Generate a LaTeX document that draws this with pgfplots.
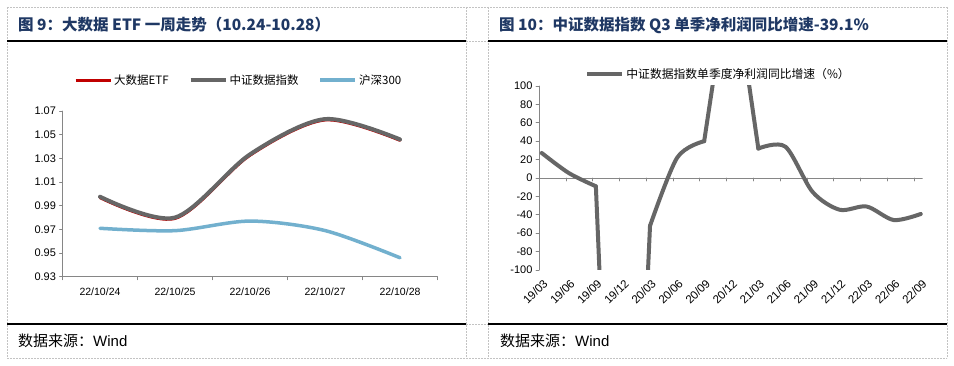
\documentclass[border=0pt]{standalone}
\usepackage{pgfplots}
\pgfplotsset{compat=1.18}
\usepackage{fontspec}
\setmainfont{Liberation Sans}
\newfontfamily\cjk{Noto Sans CJK SC}
\definecolor{titleblue}{RGB}{31,56,100}
\definecolor{etfred}{RGB}{192,0,0}
\definecolor{idxgray}{RGB}{102,102,102}
\definecolor{hsblue}{RGB}{114,176,206}
\definecolor{axgray}{RGB}{134,134,134}
\definecolor{dashgray}{RGB}{195,195,195}
\begin{document}
\begin{tikzpicture}
\path[use as bounding box] (0pt,0pt) rectangle (954pt,365pt);
\fill[white] (0pt,0pt) rectangle (954pt,365pt);
\begin{scope}[dashgray, line width=0.8pt, dash pattern=on 2pt off 1pt]
\foreach \x in {7,466,488,947} \draw (\x pt,358pt) -- (\x pt,7pt);
\foreach \y in {358,324,41,7} \draw (7pt,\y pt) -- (947pt,\y pt);
\end{scope}
\draw[black, line width=1.3pt] (7pt,324pt) -- (466pt,324pt) (488pt,324pt) -- (947pt,324pt) (7pt,41pt) -- (466pt,41pt) (488pt,41pt) -- (947pt,41pt);
\node[anchor=west, text=titleblue, inner sep=0pt, font=\cjk\bfseries\fontsize{15.5}{17}\selectfont] at (18pt,340pt) {图 9：大数据 ETF 一周走势（10.24-10.28）};
\node[anchor=west, text=titleblue, inner sep=0pt, font=\cjk\bfseries\fontsize{15.5}{17}\selectfont] at (499pt,340pt) {图 10：中证数据指数 Q3 单季净利润同比增速-39.1\%};
\node[anchor=west, inner sep=0pt, font=\fontsize{15}{17}\selectfont] at (18pt,24pt) {{\cjk 数据来源：}Wind};
\node[anchor=west, inner sep=0pt, font=\fontsize{15}{17}\selectfont] at (500pt,24pt) {{\cjk 数据来源：}Wind};

\begin{axis}[
  at={(62.5pt,88.3pt)}, anchor=south west, scale only axis,
  width=375pt, height=165.7pt,
  xmin=-0.5, xmax=4.5, ymin=0.93, ymax=1.07,
  axis lines*=left,
  axis line style={-, axgray, line width=0.8pt},
  ytick={0.93,0.95,0.97,0.99,1.01,1.03,1.05,1.07},
  yticklabel style={/pgf/number format/.cd, fixed, fixed zerofill, precision=2},
  xtick={0,1,2,3,4},
  xticklabels={22/10/24,22/10/25,22/10/26,22/10/27,22/10/28},
  minor xtick={-0.5,0.5,1.5,2.5,3.5,4.5},
  tick align=outside,
  tick style={axgray, line width=0.8pt},
  major tick length=3pt, minor tick length=3pt,
  major x tick style={draw=none},
  /pgf/number format/assume math mode=true,
  tick label style={font=\fontsize{11}{13}\selectfont},
  xticklabel style={font=\fontsize{10.5}{12}\selectfont, yshift=-5pt},
  legend style={draw=none, fill=none, at={(0.47,1.187)}, anchor=center,
    font=\cjk\fontsize{11.5}{13}\selectfont, legend columns=3,
    /tikz/every even column/.append style={column sep=18pt}},
  legend image code/.code={\draw[#1] (0pt,0pt) -- (35pt,0pt);},
  line join=round, line cap=round,
]
\addplot[etfred, line width=3pt, smooth] coordinates {(0,0.9968)(1,0.9792)(2,1.0326)(3,1.0624)(4,1.0452)};
\addlegendentry{大数据ETF}
\addplot[idxgray, line width=4pt, smooth] coordinates {(0,0.9976)(1,0.9800)(2,1.0334)(3,1.0632)(4,1.0460)};
\addlegendentry{中证数据指数}
\addplot[hsblue, line width=3.5pt, smooth] coordinates {(0,0.9709)(1,0.9689)(2,0.9770)(3,0.9690)(4,0.9460)};
\addlegendentry{沪深300}
\end{axis}

\begin{axis}[
  at={(539pt,95pt)}, anchor=south west, scale only axis,
  width=383.7pt, height=184pt,
  xmin=-0.1, xmax=14.07, ymin=-100, ymax=100,
  axis lines*=left,
  axis line style={-, axgray, line width=0.8pt},
  x axis line style={draw=none},
  ytick={-100,-80,-60,-40,-20,0,20,40,60,80,100},
  xtick={0,1,2,3,4,5,6,7,8,9,10,11,12,13,14},
  xticklabels={19/03,19/06,19/09,19/12,20/03,20/06,20/09,20/12,21/03,21/06,21/09,21/12,22/03,22/06,22/09},
  tick align=outside,
  tick style={axgray, line width=0.8pt},
  major tick length=3pt,
  major x tick style={draw=none},
  /pgf/number format/assume math mode=true,
  tick label style={font=\fontsize{11}{13}\selectfont},
  xticklabel style={rotate=45, anchor=north east, font=\fontsize{11.5}{13}\selectfont, yshift=-1pt},
  legend style={draw=none, fill=none, at={(0.468,1.065)}, anchor=center,
    font=\cjk\fontsize{11.8}{13}\selectfont},
  legend image code/.code={\draw[#1] (0pt,0pt) -- (35pt,0pt);},
  line join=round, line cap=round,
]
\draw[axgray, line width=0.8pt] (rel axis cs:0,0.5) -- (rel axis cs:1,0.5);
\pgfplotsinvokeforeach{0.90,1.89,2.88,3.87,4.85,5.84,6.83,7.82,8.81,9.80,10.79,11.78,12.77,13.76}{
  \draw[axgray, line width=0.8pt] (axis cs:#1,0) -- ++(0pt,-3pt);
}
\addplot[idxgray, line width=4pt, smooth] coordinates {(0,27.2)(1,5.4)(2,-9)};
\addlegendentry{中证数据指数单季度净利润同比增速（\%）}
\addplot[idxgray, line width=4pt, forget plot] coordinates {(2,-9)(3,-700)(4,-52)};
\addplot[idxgray, line width=4pt, smooth, forget plot] coordinates {(4,-52)(5,22)(6,40)};
\addplot[idxgray, line width=4pt, forget plot] coordinates {(6,40)(7,235)(8,32)};
\addplot[idxgray, line width=4pt, smooth, forget plot] coordinates {(8,32)(9,34)(10,-15)(11,-34.5)(12,-31)(13,-45.7)(14,-39.1)};
\end{axis}
\end{tikzpicture}
\end{document}
